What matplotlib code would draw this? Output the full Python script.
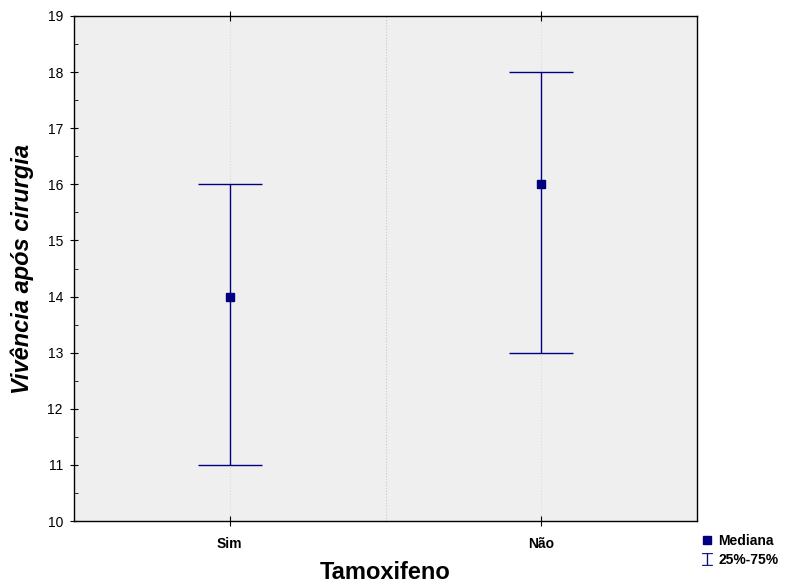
import numpy as np
import matplotlib.pyplot as plt
from matplotlib.lines import Line2D
from matplotlib.ticker import MultipleLocator

plt.rcParams['font.family'] = ['Liberation Sans', 'DejaVu Sans']

grupos = ['Sim', 'Não']
mediana = [14, 16]
q25 = [11, 13]
q75 = [16, 18]

cor = '#000080'
x = np.arange(len(grupos))
med = np.array(mediana)
erro = [med - np.array(q25), np.array(q75) - med]

fig = plt.figure(figsize=(7.89, 5.86), dpi=100)
ax = fig.add_axes([0.0938, 0.1109, 0.7896, 0.8618])
ax.set_facecolor('#efefef')

ax.axvline(0.5, color='#c8c8c8', lw=0.8, ls=':', zorder=0)
for xi in x:
    ax.axvline(xi, color='#dcdcdc', lw=0.8, ls=':', zorder=0)

ax.errorbar(x, med, yerr=erro, fmt='none', ecolor=cor, elinewidth=1,
            capsize=22.7, capthick=1, zorder=3)
ax.plot(x, med, 's', color=cor, ms=6, zorder=4)

ax.set_xlim(-0.5, 1.5)
ax.set_ylim(10, 19)
ax.set_xticks(x)
ax.set_xticklabels(grupos, fontweight='bold', fontsize=10)
ax.yaxis.set_major_locator(MultipleLocator(1))
ax.yaxis.set_minor_locator(MultipleLocator(0.5))
ax.tick_params(axis='y', which='major', direction='inout', length=6,
               labelsize=10, pad=5)
ax.tick_params(axis='y', which='minor', direction='in', length=3)
ax.tick_params(axis='x', which='major', direction='inout', length=7,
               top=True, pad=8)
for s in ax.spines.values():
    s.set_linewidth(1)

ax.set_xlabel('Tamoxifeno', fontsize=17, fontweight='bold', labelpad=7)
ax.set_ylabel('Vivência após cirurgia', fontsize=17, fontweight='bold',
              style='italic', labelpad=10)

handles = [
    Line2D([], [], marker='s', color=cor, ls='none', ms=6),
    Line2D([], [], marker='$\u2336$', color=cor, ls='none', ms=9, mew=0.3),
]
fig.legend(handles, ['Mediana', '25%-75%'], loc='lower left',
           bbox_to_anchor=(0.882, 0.021), frameon=False, handlelength=0.6,
           handletextpad=0.5, labelspacing=0.35, borderpad=0,
           prop={'weight': 'bold', 'size': 10})

fig.savefig('out.png', dpi=100)
